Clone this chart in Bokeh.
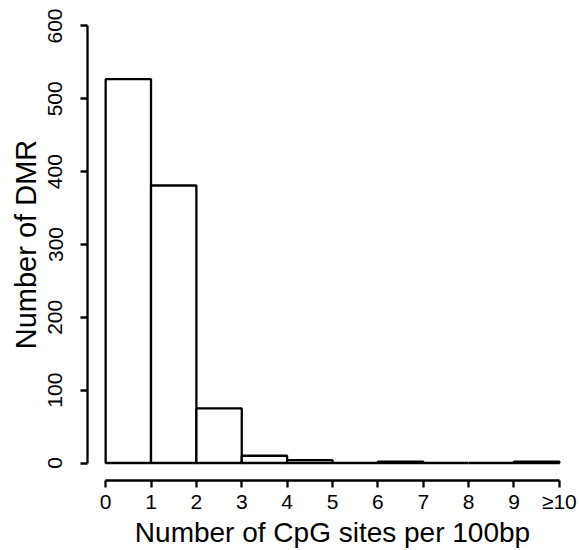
from bokeh.plotting import figure
from bokeh.models import Range1d, FixedTicker
from bokeh.embed import file_html
from bokeh.resources import INLINE

# Histogram of CpG density per DMR (bins of 1 CpG per 100bp, last bin >= 10)
bin_left = [0, 1, 2, 3, 4, 5, 6, 7, 8, 9]
bin_right = [1, 2, 3, 4, 5, 6, 7, 8, 9, 10]
counts = [527, 381, 75, 10, 4, 0, 2, 0, 0, 2]

x_ticks = [0, 1, 2, 3, 4, 5, 6, 7, 8, 9, 10]
x_tick_labels = ["0", "1", "2", "3", "4", "5", "6", "7", "8", "9", "\u226510"]
y_ticks = [0, 100, 200, 300, 400, 500, 600]

FONT = "Liberation Sans"

p = figure(
    width=579, height=550, title=None,
    x_range=Range1d(-0.4, 10.4), y_range=Range1d(-24, 624),
    output_backend="svg", toolbar_location=None,
    min_border_left=87, min_border_right=2,
    min_border_top=8, min_border_bottom=70,
)
p.outline_line_color = None
p.xgrid.grid_line_color = None
p.ygrid.grid_line_color = None
p.background_fill_color = "white"
p.border_fill_color = "white"

p.quad(left=bin_left, right=bin_right, bottom=[0] * len(counts), top=counts,
       fill_color="white", line_color="black", line_width=2.3)

for ax in (p.xaxis[0], p.yaxis[0]):
    ax.axis_line_width = 2.3
    ax.major_tick_line_width = 2.3
    ax.minor_tick_line_color = None
    ax.major_tick_out = 7
    ax.major_tick_in = 0
    ax.major_label_text_font = FONT
    ax.major_label_text_font_size = "21px"
    ax.major_label_text_color = "black"
    ax.axis_label_text_font = FONT
    ax.axis_label_text_font_style = "normal"
    ax.axis_label_text_color = "black"

xa = p.xaxis[0]
xa.bounds = (0, 10)
xa.ticker = FixedTicker(ticks=x_ticks)
xa.major_label_overrides = {t: s for t, s in zip(x_ticks, x_tick_labels)}
xa.major_label_standoff = 2
xa.axis_label = "Number of CpG sites per 100bp"
xa.axis_label_text_font_size = "28px"
xa.axis_label_standoff = 1

ya = p.yaxis[0]
ya.bounds = (0, 600)
ya.ticker = FixedTicker(ticks=y_ticks)
ya.major_label_orientation = "vertical"
ya.major_label_standoff = 18
ya.axis_label = "Number of DMR"
ya.axis_label_text_font_size = "29px"
ya.axis_label_standoff = 4

open("out.html", "w").write(file_html(p, INLINE))
